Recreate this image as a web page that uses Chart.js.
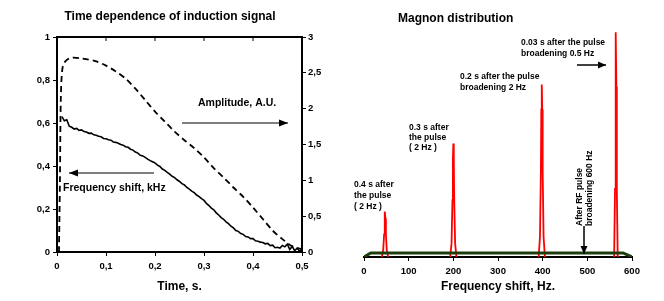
<!DOCTYPE html>
<html>
<head>
<meta charset="utf-8">
<script src="https://cdn.jsdelivr.net/npm/chart.js@4.4.1/dist/chart.umd.min.js"></script>
<style>
body { margin:0; background:#fff; }
#left { position:absolute; left:0; top:0; }
#right { position:absolute; left:332px; top:0; }
</style>
</head>
<body>
<canvas id="left" width="332" height="301"></canvas>
<canvas id="right" width="332" height="301"></canvas>
<script>
// ---- left panel data: time (s) ----
var freqTime = [0.010,0.015,0.020,0.025,0.030,0.035,0.040,0.045,0.050,0.055,0.060,0.065,0.070,0.075,0.080,0.085,0.090,0.095,
  0.100,0.105,0.110,0.115,0.120,0.125,0.130,0.135,0.140,0.145,0.150,0.155,0.160,0.165,0.170,0.175,0.180,0.185,0.190,0.195,
  0.200,0.205,0.210,0.215,0.220,0.225,0.230,0.235,0.240,0.245,0.250,0.255,0.260,0.265,0.270,0.275,0.280,0.285,0.290,0.295,
  0.300,0.305,0.310,0.315,0.320,0.325,0.330,0.335,0.340,0.345,0.350,0.355,0.360,0.365,0.370,0.375,0.380,0.385,0.390,0.395,
  0.400,0.405,0.410,0.415,0.420,0.425,0.430,0.435,0.440,0.445,0.450,0.455,0.460,0.465,0.470,0.475,0.480,0.485,0.490,0.495,0.500];
var freqShift = [0.63,0.61,0.615,0.585,0.58,0.572,0.575,0.566,0.568,0.56,0.558,0.552,0.553,0.545,0.543,0.538,0.536,0.528,
  0.527,0.522,0.52,0.512,0.51,0.506,0.50,0.497,0.49,0.487,0.478,0.474,0.465,0.46,0.45,0.447,0.44,0.432,0.425,0.42,
  0.414,0.404,0.398,0.386,0.38,0.37,0.362,0.352,0.346,0.336,0.328,0.318,0.312,0.30,0.292,0.283,0.276,0.265,0.258,0.248,
  0.24,0.226,0.216,0.204,0.196,0.182,0.172,0.16,0.152,0.14,0.132,0.12,0.112,0.10,0.096,0.086,0.082,0.072,0.07,0.062,
  0.062,0.052,0.05,0.046,0.044,0.038,0.04,0.03,0.032,0.02,0.022,0.018,0.03,0.024,0.036,0.012,0.026,0.006,0.018,0.004,0.012];

var ampTime = [0.004,0.006,0.008,0.012,0.02,0.03,0.05,0.08,0.10,0.12,0.14,0.16,0.18,0.20,0.22,0.24,0.26,0.28,0.30,0.32,0.34,0.36,0.38,0.40,0.42,0.44,0.46,0.48,0.50];
var amplitude = [0,1.0,2.2,2.6,2.68,2.71,2.70,2.66,2.60,2.52,2.42,2.28,2.12,1.96,1.82,1.68,1.56,1.45,1.32,1.17,1.04,0.90,0.77,0.62,0.46,0.30,0.18,0.08,0.04];

// ---- right panel data: frequency (Hz) ----
var baseFreq = [0,15,580,600];
var baseLevel = [0,0.018,0.018,0];
var peak04Freq = [40,43,45,46,47,48,49,51,54];
var peak04 = [0,0.03,0.1,0.17,0.2,0.17,0.1,0.03,0];
var peak03Freq = [193,196,198,199,200,201,202,204,207];
var peak03 = [0,0.06,0.25,0.43,0.5,0.43,0.25,0.06,0];
var peak02Freq = [391,394,396,397,398,399,400,402,405];
var peak02 = [0,0.09,0.38,0.65,0.76,0.65,0.38,0.09,0];
var peak003Freq = [560,562,563,564,565,566,568];
var peak003 = [0,0.3,0.75,0.99,0.75,0.3,0];

function pts(xs, ys) {
  return xs.map(function (x, i) { return {x: x, y: ys[i]}; });
}
function comma(v) {
  return String(Math.round(v * 10) / 10).replace('.', ',');
}

var F = 'Liberation Sans, Arial, sans-serif';
var tickFont = {family: F, size: 9.5, weight: 'bold'};

function arrow(ctx, x1, y1, x2, y2, head) {
  ctx.beginPath();
  ctx.moveTo(x1, y1);
  ctx.lineTo(x2, y2);
  ctx.stroke();
  var a = Math.atan2(y2 - y1, x2 - x1);
  ctx.beginPath();
  ctx.moveTo(x2, y2);
  ctx.lineTo(x2 - head * Math.cos(a) + 3.5 * Math.sin(a), y2 - head * Math.sin(a) - 3.5 * Math.cos(a));
  ctx.lineTo(x2 - head * Math.cos(a) - 3.5 * Math.sin(a), y2 - head * Math.sin(a) + 3.5 * Math.cos(a));
  ctx.closePath();
  ctx.fill();
}

var leftDeco = {
  id: 'leftDeco',
  afterDraw: function (chart) {
    var ctx = chart.ctx, a = chart.chartArea;
    ctx.save();
    ctx.strokeStyle = '#000';
    ctx.lineWidth = 2;
    ctx.beginPath();
    ctx.moveTo(a.left, a.top);
    ctx.lineTo(a.right, a.top);
    ctx.stroke();
    // top ticks
    var xs = chart.scales.x;
    ctx.lineWidth = 1;
    [0.1, 0.2, 0.3, 0.4].forEach(function (t) {
      var px = xs.getPixelForValue(t);
      ctx.beginPath();
      ctx.moveTo(px, a.top);
      ctx.lineTo(px, a.top + 4);
      ctx.stroke();
    });
    ctx.fillStyle = '#000';
    ctx.textBaseline = 'middle';
    ctx.font = 'bold 12px ' + F;
    ctx.textAlign = 'center';
    ctx.fillText('Time dependence of induction signal', 170, 17);
    ctx.font = 'bold 10.5px ' + F;
    ctx.textAlign = 'left';
    ctx.fillText('Amplitude, A.U.', 198, 103);
    ctx.fillText('Frequency shift, kHz', 63, 188);
    ctx.lineWidth = 1.2;
    arrow(ctx, 182, 123, 288, 123, 9);
    arrow(ctx, 154, 173, 69, 173, 9);
    ctx.restore();
  }
};

new Chart(document.getElementById('left'), {
  type: 'scatter',
  data: {
    datasets: [{
      label: 'Frequency shift, kHz',
      data: pts(freqTime, freqShift),
      yAxisID: 'y',
      showLine: true,
      borderColor: '#000',
      borderWidth: 1.6,
      pointRadius: 0
    }, {
      label: 'Amplitude, A.U.',
      data: pts(ampTime, amplitude),
      yAxisID: 'y2',
      showLine: true,
      borderColor: '#000',
      borderWidth: 1.8,
      borderDash: [6, 4],
      tension: 0.3,
      pointRadius: 0
    }]
  },
  options: {
    responsive: false,
    animation: false,
    devicePixelRatio: 1,
    layout: {padding: {top: 37, bottom: 0, left: 0, right: 0}},
    plugins: {legend: {display: false}, tooltip: {enabled: false}},
    scales: {
      x: {
        type: 'linear', min: 0, max: 0.5,
        afterFit: function (s) { s.height = 49; },
        border: {display: true, color: '#000', width: 2},
        grid: {drawOnChartArea: false, color: '#000', tickLength: 4},
        ticks: {stepSize: 0.1, color: '#000', font: tickFont, padding: 5, callback: comma, maxRotation: 0},
        title: {display: true, text: 'Time, s.', color: '#000', font: {family: F, size: 12, weight: 'bold'}, padding: {top: 0, bottom: 7}}
      },
      y: {
        min: 0, max: 1,
        afterFit: function (s) { s.width = 57; },
        border: {display: true, color: '#000', width: 2},
        grid: {drawOnChartArea: false, color: '#000', tickLength: 4},
        ticks: {stepSize: 0.2, color: '#000', font: tickFont, padding: 3, callback: comma}
      },
      y2: {
        position: 'right', min: 0, max: 3,
        afterFit: function (s) { s.width = 30; },
        border: {display: true, color: '#000', width: 2},
        grid: {drawOnChartArea: false, color: '#000', tickLength: 4},
        ticks: {stepSize: 0.5, color: '#000', font: tickFont, padding: 2, callback: comma}
      }
    }
  },
  plugins: [leftDeco]
});

var rightDeco = {
  id: 'rightDeco',
  afterDraw: function (chart) {
    var ctx = chart.ctx;
    ctx.save();
    ctx.fillStyle = '#000';
    ctx.strokeStyle = '#000';
    ctx.textBaseline = 'middle';
    ctx.textAlign = 'left';
    ctx.font = 'bold 12px ' + F;
    ctx.fillText('Magnon distribution', 66, 19);
    ctx.font = 'bold 8.5px ' + F;
    ctx.fillText('0.03 s after the pulse', 189, 43);
    ctx.fillText('broadening 0.5 Hz', 189, 54);
    ctx.fillText('0.2 s after the pulse', 128, 77);
    ctx.fillText('broadening 2 Hz', 128, 88);
    ctx.fillText('0.3 s after', 77, 128);
    ctx.fillText('the pulse', 77, 138);
    ctx.fillText('( 2 Hz )', 77, 148);
    ctx.fillText('0.4 s after', 22, 185);
    ctx.fillText('the pulse', 22, 196);
    ctx.fillText('( 2 Hz )', 22, 207);
    ctx.save();
    ctx.translate(248, 226);
    ctx.rotate(-Math.PI / 2);
    ctx.fillText('After RF pulse', 0, 0);
    ctx.fillText('broadening 600 Hz', 0, 10);
    ctx.restore();
    ctx.lineWidth = 1.5;
    arrow(ctx, 245, 65, 274, 65, 8);
    arrow(ctx, 252, 226, 252, 254, 8);
    ctx.restore();
  }
};

var red = {showLine: true, borderColor: '#ff0000', borderWidth: 1.8, pointRadius: 0};

new Chart(document.getElementById('right'), {
  type: 'scatter',
  data: {
    datasets: [
      {label: 'broadening 600 Hz', data: pts(baseFreq, baseLevel), showLine: true, borderColor: '#1e3d0c', borderWidth: 3, pointRadius: 0},
      Object.assign({label: '0.4 s', data: pts(peak04Freq, peak04)}, red),
      Object.assign({label: '0.3 s', data: pts(peak03Freq, peak03)}, red),
      Object.assign({label: '0.2 s', data: pts(peak02Freq, peak02)}, red),
      Object.assign({label: '0.03 s', data: pts(peak003Freq, peak003)}, red)
    ]
  },
  options: {
    responsive: false,
    animation: false,
    devicePixelRatio: 1,
    layout: {padding: {top: 30, bottom: 0, left: 32, right: 32}},
    plugins: {legend: {display: false}, tooltip: {enabled: false}},
    scales: {
      x: {
        type: 'linear', min: 0, max: 600,
        afterFit: function (s) { s.height = 44; },
        border: {display: true, color: '#000', width: 2},
        grid: {drawOnChartArea: false, color: '#000', tickLength: 4},
        ticks: {stepSize: 100, color: '#000', font: tickFont, padding: 5, maxRotation: 0},
        title: {display: true, text: 'Frequency shift, Hz.', color: '#000', font: {family: F, size: 12, weight: 'bold'}, padding: {top: 0, bottom: 7}}
      },
      y: {display: false, min: 0, max: 1}
    }
  },
  plugins: [rightDeco]
});
</script>
</body>
</html>
